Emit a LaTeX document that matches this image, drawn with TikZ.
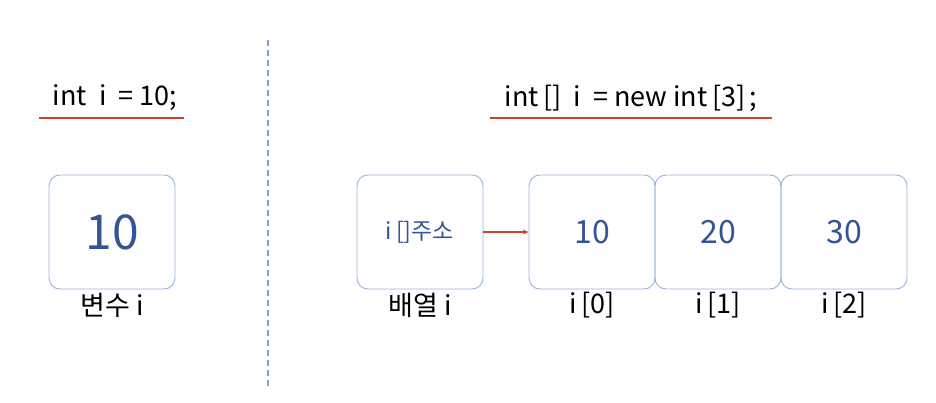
\documentclass[tikz,border=0pt]{standalone}
\usepackage{fontspec}
\setmainfont{Noto Sans CJK KR}
\usetikzlibrary{arrows.meta}
\begin{document}
\begin{tikzpicture}[x=1pt,y=-1pt,
  cell/.style={draw=boxblue, line width=0.9pt, rounded corners=11pt, minimum width=126pt, minimum height=114pt, inner sep=0pt, text=numblue},
  lbl/.style={font=\fontsize{27}{30}\selectfont, text=black, inner sep=0pt},
  code/.style={font=\fontsize{27}{30}\selectfont, text=black, inner sep=0pt},
  uline/.style={draw=linered, line width=1.4pt},
  arr/.style={draw=linered, line width=1.2pt, -{Stealth[length=6pt,width=5pt]}}]
\definecolor{boxblue}{RGB}{150,178,222}
\definecolor{numblue}{RGB}{52,84,150}
\definecolor{linered}{RGB}{205,65,45}
\definecolor{dashblue}{RGB}{130,162,208}
\useasboundingbox (0,0) rectangle (936,402);
% left
\node[code] (c1) at (115,98) {int\ \ i\ \ = 10;};
\coordinate (u1a) at (39,118); \coordinate (u1b) at (184,118);
\draw[uline] (u1a) -- (u1b);
\node[cell, font=\fontsize{48}{50}\selectfont] (v) at (112,232) {10};
\node[lbl] (vl) at (112,305) {변수 i};
% divider
\coordinate (d1) at (268,40); \coordinate (d2) at (268,388);
\draw[dashblue, line width=1.2pt, dash pattern=on 6pt off 4pt] (d1) -- (d2);
% right
\node[code] (c2) at (631,98) {int\,[]\ \ i\ \ = new int\,[3]\,;};
\coordinate (u2a) at (490,118); \coordinate (u2b) at (772,118);
\draw[uline] (u2a) -- (u2b);
\node[cell, font=\fontsize{23}{26}\selectfont] (addr) at (420,232) {i\,[]주소};
\node[cell, font=\fontsize{32}{34}\selectfont] (a0) at (592,232) {10};
\node[cell, font=\fontsize{32}{34}\selectfont] (a1) at (718,232) {20};
\node[cell, font=\fontsize{32}{34}\selectfont] (a2) at (844,232) {30};
\draw[arr] (addr.east) -- (a0.west);
\node[lbl] (al) at (420,305) {배열 i};
\node[lbl] (l0) at (592,305) {i\,[0]};
\node[lbl] (l1) at (718,305) {i\,[1]};
\node[lbl] (l2) at (844,305) {i\,[2]};
\end{tikzpicture}
\end{document}
